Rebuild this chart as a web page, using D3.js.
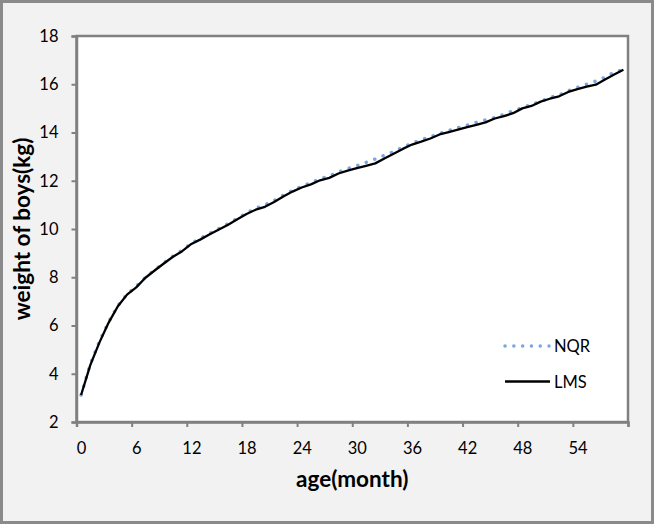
<!DOCTYPE html>
<html>
<head>
<meta charset="utf-8">
<script src="https://cdn.jsdelivr.net/npm/d3@7/dist/d3.min.js"></script>
<style>
html,body{margin:0;padding:0;background:#fff;}
svg{display:block;}
</style>
</head>
<body>
<svg id="chart" width="654" height="524"></svg>
<script>
const months = [0,1,2,3,4,5,6,7,8,9,10,11,12,13,14,15,16,17,18,19,20,21,22,23,24,25,26,27,28,29,30,31,32,33,34,35,36,37,38,39,40,41,42,43,44,45,46,47,48,49,50,51,52,53,54,55,56,57,58,59];
const lmsValues = [3.12,4.36,5.30,6.12,6.80,7.28,7.58,7.98,8.28,8.57,8.85,9.08,9.38,9.57,9.78,9.98,10.18,10.40,10.62,10.80,10.92,11.12,11.35,11.55,11.72,11.85,12.02,12.12,12.30,12.42,12.52,12.62,12.72,12.92,13.12,13.32,13.50,13.62,13.75,13.92,14.02,14.12,14.22,14.32,14.42,14.58,14.68,14.80,15.00,15.10,15.28,15.40,15.50,15.68,15.80,15.90,15.98,16.20,16.40,16.60];
const nqrValues = [3.12,4.40,5.35,6.15,6.82,7.30,7.62,8.00,8.30,8.60,8.88,9.12,9.40,9.62,9.82,10.02,10.22,10.44,10.66,10.86,11.00,11.18,11.40,11.60,11.76,11.92,12.08,12.20,12.36,12.50,12.62,12.76,12.90,13.05,13.20,13.38,13.55,13.70,13.82,13.96,14.08,14.20,14.30,14.42,14.52,14.62,14.75,14.90,15.02,15.17,15.28,15.46,15.55,15.73,15.87,16.00,16.13,16.29,16.50,16.60];
const xTicks = [0,6,12,18,24,30,36,42,48,54,60];
const yTicks = [2,4,6,8,10,12,14,16,18];
const seriesNames = ["NQR","LMS"];

const svg = d3.select("#chart");
const W = 654, H = 524;
const L = 76.5, R = 628, T = 36, B = 422;
const font = "Lato, 'Open Sans', sans-serif";

// background and outer border
svg.append("rect").attr("x",1.5).attr("y",1.5).attr("width",W-3).attr("height",H-3)
  .attr("fill","#f2f2f2").attr("stroke","#8a8a8a").attr("stroke-width",3);

const x = d3.scaleLinear().domain([0,60]).range([L,R]);
const y = d3.scaleLinear().domain([2,18]).range([B,T]);

// plot area
svg.append("rect").attr("x",L).attr("y",T).attr("width",R-L).attr("height",B-T)
  .attr("fill","#ffffff").attr("stroke","#808080").attr("stroke-width",2.5);

// y axis
const yAxis = svg.append("g").attr("transform",`translate(${L},0)`)
  .call(d3.axisLeft(y).tickValues(yTicks).tickSize(5).tickPadding(13).tickFormat(d3.format("d")));
yAxis.select(".domain").attr("stroke","#808080").attr("stroke-width",2.5);
yAxis.selectAll(".tick line").attr("stroke","#808080").attr("stroke-width",2);
yAxis.selectAll(".tick text").attr("font-family",font).attr("font-size",16.5).attr("fill","#000");

// x axis (category style: labels centred between tick marks)
const half = x(0.5)-x(0);
const xAxis = svg.append("g").attr("transform",`translate(0,${B})`)
  .call(d3.axisBottom(x).tickValues(xTicks).tickSize(5).tickPadding(15)
    .tickFormat(d => d===60 ? "" : d));
xAxis.select(".domain").attr("stroke","#808080").attr("stroke-width",2.5);
xAxis.selectAll(".tick line").attr("stroke","#808080").attr("stroke-width",2);
xAxis.selectAll(".tick text").attr("font-family",font).attr("font-size",16.5).attr("fill","#000")
  .attr("dx",half);

// axis titles
svg.append("text").attr("x",(L+R)/2).attr("y",487).attr("text-anchor","middle")
  .attr("font-family",font).attr("font-weight","bold").attr("font-size",22.5).text("age(month)");
svg.append("text").attr("transform",`translate(30,${(T+B)/2}) rotate(-90)`).attr("text-anchor","middle")
  .attr("font-family",font).attr("font-weight","bold").attr("font-size",22.5).text("weight of boys(kg)");

// lines
const lineGen = vals => d3.line().x((d,i)=>x(months[i]+0.5)).y(d=>y(d))(vals);
svg.append("path").attr("d",lineGen(nqrValues)).attr("fill","none")
  .attr("stroke","#7ba6e0").attr("stroke-width",3.5).attr("stroke-linecap","round")
  .attr("stroke-dasharray","0.1 8.9");
svg.append("path").attr("d",lineGen(lmsValues)).attr("fill","none")
  .attr("stroke","#000").attr("stroke-width",2.3).attr("stroke-linejoin","round");

// legend
const lg = svg.append("g");
lg.append("line").attr("x1",505).attr("x2",549).attr("y1",346).attr("y2",346)
  .attr("stroke","#7ba6e0").attr("stroke-width",3.5).attr("stroke-linecap","round")
  .attr("stroke-dasharray","0.1 8.7");
lg.append("line").attr("x1",505).attr("x2",550).attr("y1",381.5).attr("y2",381.5)
  .attr("stroke","#000").attr("stroke-width",2.5);
lg.selectAll("text.lab").data(seriesNames).enter().append("text")
  .attr("x",554).attr("y",(d,i)=> i===0 ? 352 : 387.5)
  .attr("font-family",font).attr("font-size",16.5).text(d=>d);
</script>
</body>
</html>
